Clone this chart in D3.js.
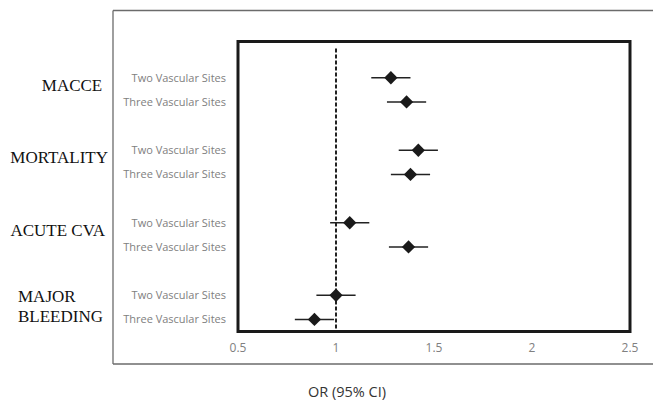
<!DOCTYPE html>
<html>
<head>
<meta charset="utf-8">
<script src="https://cdn.jsdelivr.net/npm/d3@7"></script>
<style>
  body { margin: 0; background: #fff; }
  svg { display: block; }
</style>
</head>
<body>
<svg id="chart"></svg>
<script>
// Data
const groups = ["MACCE", "MORTALITY", "ACUTE CVA", "MAJOR BLEEDING"];
const subgroups = ["Two Vascular Sites", "Three Vascular Sites"];
const orValues = [1.28, 1.36, 1.42, 1.38, 1.07, 1.37, 1.00, 0.89];
const ciLow    = [1.18, 1.26, 1.32, 1.28, 0.97, 1.27, 0.90, 0.79];
const ciHigh   = [1.38, 1.46, 1.52, 1.48, 1.17, 1.47, 1.10, 0.99];
const xTicks = [0.5, 1, 1.5, 2, 2.5];

const width = 653, height = 401;
const plot = { left: 238, right: 630, top: 41.5, bottom: 331.5 };

const svg = d3.select("#chart")
    .attr("width", width)
    .attr("height", height);

// rows: each group takes 3 slots (2 rows + gap)
const rows = [];
groups.forEach((g, gi) => {
    subgroups.forEach((s, si) => {
        const i = gi * 2 + si;
        rows.push({ group: g, sub: s, slot: gi * 3 + si, or: orValues[i], lo: ciLow[i], hi: ciHigh[i] });
    });
});

const x = d3.scaleLinear().domain([0.5, 2.5]).range([plot.left, plot.right]);
const y = d3.scaleLinear().domain([-1.5, 10.5]).range([plot.top, plot.bottom]);

// outer frame (open on the right)
const frame = svg.append("g")
    .attr("fill", "none")
    .attr("stroke", "#6b6b6b")
    .attr("stroke-width", 1.3);
frame.append("line").attr("x1", 113).attr("x2", width).attr("y1", 10.5).attr("y2", 10.5);
frame.append("line").attr("x1", 113).attr("x2", 113).attr("y1", 10.5).attr("y2", 364);
frame.append("line").attr("x1", 113).attr("x2", width).attr("y1", 364).attr("y2", 364);

// reference line at OR = 1
svg.append("line")
    .attr("x1", x(1)).attr("x2", x(1))
    .attr("y1", plot.top + 7).attr("y2", plot.bottom)
    .attr("stroke", "#222")
    .attr("stroke-width", 2)
    .attr("stroke-dasharray", "4,2");

// confidence intervals
svg.selectAll(".ci")
    .data(rows)
    .enter()
    .append("line")
    .attr("class", "ci")
    .attr("x1", d => x(d.lo))
    .attr("x2", d => x(d.hi))
    .attr("y1", d => y(d.slot))
    .attr("y2", d => y(d.slot))
    .attr("stroke", "#222")
    .attr("stroke-width", 1.5);

// diamonds
const diamond = d3.symbol().type(d3.symbolSquare).size(88);
svg.selectAll(".pt")
    .data(rows)
    .enter()
    .append("path")
    .attr("class", "pt")
    .attr("d", diamond)
    .attr("transform", d => `translate(${x(d.or)},${y(d.slot)}) rotate(45)`)
    .attr("fill", "#1a1a1a");

// plot box
svg.append("rect")
    .attr("x", plot.left)
    .attr("y", plot.top)
    .attr("width", plot.right - plot.left)
    .attr("height", plot.bottom - plot.top)
    .attr("fill", "none")
    .attr("stroke", "#1a1a1a")
    .attr("stroke-width", 3);

// x tick labels
svg.selectAll(".tick-label")
    .data(xTicks)
    .enter()
    .append("text")
    .attr("class", "tick-label")
    .attr("x", d => x(d))
    .attr("y", 352)
    .attr("text-anchor", "middle")
    .style("font-family", "'Open Sans', sans-serif")
    .style("font-size", "12px")
    .style("fill", "#808080")
    .text(d => d);

// row labels
svg.selectAll(".row-label")
    .data(rows)
    .enter()
    .append("text")
    .attr("class", "row-label")
    .attr("x", 226)
    .attr("y", d => y(d.slot) + 4)
    .attr("text-anchor", "end")
    .style("font-family", "'Open Sans', sans-serif")
    .style("font-size", "11px")
    .style("fill", "#808080")
    .text(d => d.sub);

// group labels (serif, placed by hand like the original)
const groupLayout = [
    { anchor: "middle", x: 72, lines: ["MACCE"] },
    { anchor: "end", x: 108, lines: ["MORTALITY"] },
    { anchor: "end", x: 105, lines: ["ACUTE CVA"] },
    { anchor: "start", x: 18, lines: ["MAJOR", "BLEEDING"] }
];
groups.forEach((g, gi) => {
    const lay = groupLayout[gi];
    const mid = (y(gi * 3) + y(gi * 3 + 1)) / 2;
    const t = svg.append("text")
        .attr("text-anchor", lay.anchor)
        .style("font-family", "'Liberation Serif', 'Times New Roman', serif")
        .style("font-size", "17px")
        .style("fill", "#111");
    const startY = lay.lines.length === 1 ? mid + 1 : mid - 5;
    lay.lines.forEach((ln, li) => {
        t.append("tspan")
            .attr("x", lay.x)
            .attr("y", startY + li * 20)
            .text(ln);
    });
});

// axis title
svg.append("text")
    .attr("x", 347)
    .attr("y", 397)
    .attr("text-anchor", "middle")
    .style("font-family", "'Open Sans', sans-serif")
    .style("font-size", "14.5px")
    .style("fill", "#333")
    .text("OR (95% CI)");
</script>
</body>
</html>
